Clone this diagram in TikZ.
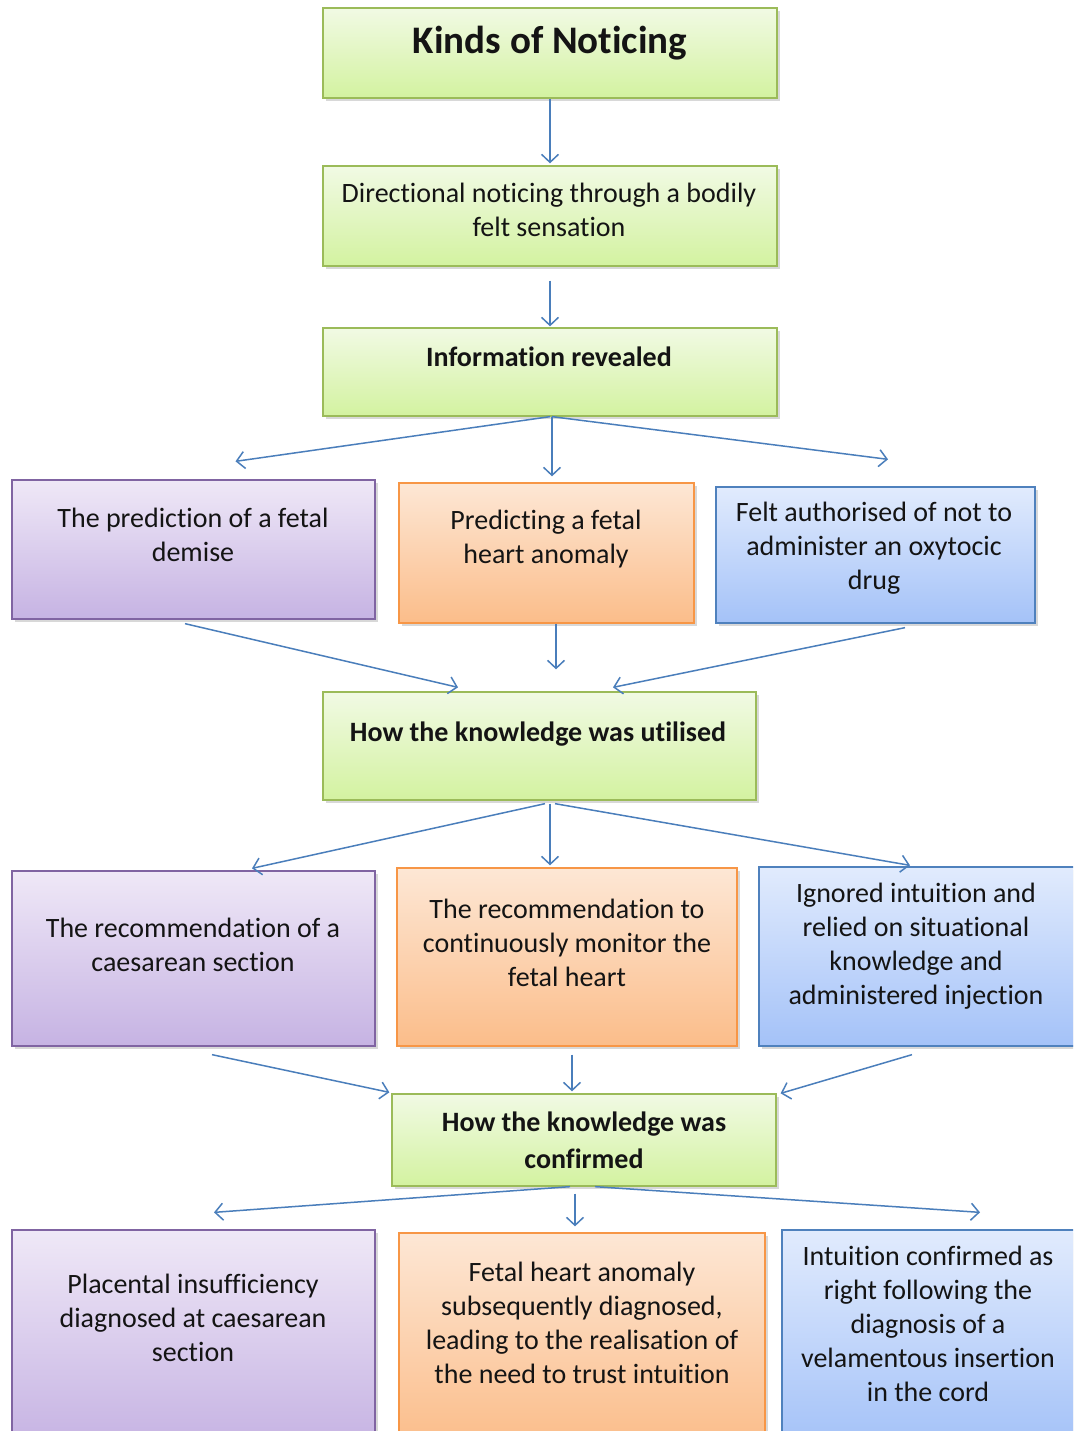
\documentclass[tikz,border=0pt]{standalone}
\usepackage{fontspec}
\setmainfont{Carlito}[RawFeature=-liga]
\usetikzlibrary{arrows.meta,shadows,calc}
\definecolor{grnB}{HTML}{9BBB59}\definecolor{grnT}{HTML}{F1FAE4}\definecolor{grnD}{HTML}{D3F2A0}
\definecolor{purB}{HTML}{8064A2}\definecolor{purT}{HTML}{EFE8F7}\definecolor{purD}{HTML}{C6B3E3}
\definecolor{orgB}{HTML}{F79646}\definecolor{orgT}{HTML}{FDE7D5}\definecolor{orgD}{HTML}{FBBD8A}
\definecolor{bluB}{HTML}{4F81BD}\definecolor{bluT}{HTML}{E1EBFD}\definecolor{bluD}{HTML}{A4C2F8}
\definecolor{arrC}{HTML}{4A7EBB}
\definecolor{ink}{HTML}{141414}
\tikzset{
  box/.style={draw, line width=1.3pt, inner sep=0pt, rectangle,
    drop shadow={opacity=0.3, shadow xshift=3pt, shadow yshift=-3pt}},
  gbox/.style={box, draw=grnB, top color=grnT, bottom color=grnD},
  pbox/.style={box, draw=purB, top color=purT, bottom color=purD},
  obox/.style={box, draw=orgB, top color=orgT, bottom color=orgD},
  bbox/.style={box, draw=bluB, top color=bluT, bottom color=bluD},
  txt/.style={align=center, inner sep=0pt, text=ink, font=\fontsize{28}{34}\selectfont},
  btxt/.style={txt, font=\fontsize{28}{37}\selectfont\bfseries},
  arr/.style={draw=arrC, line width=1.5pt, -{Straight Barb[length=8pt,width=17pt]}}
}
\begin{document}
\begin{tikzpicture}[x=1pt,y=-1pt]
\clip (0,0) rectangle (1073,1431);
\fill[white] (0,0) rectangle (1073,1431);
% boxes
\node[gbox, minimum width=454pt, minimum height=90pt] (t) at (550,53) {};
\node[gbox, minimum width=454pt, minimum height=100pt] (d) at (550,216) {};
\node[gbox, minimum width=454pt, minimum height=88pt] (i) at (550,372) {};
\node[pbox, minimum width=363pt, minimum height=139pt] (p1) at (193.5,549.5) {};
\node[obox, minimum width=295pt, minimum height=140pt] (o1) at (546.5,553) {};
\node[bbox, minimum width=319pt, minimum height=136pt] (b1) at (875.5,555) {};
\node[gbox, minimum width=433pt, minimum height=108pt] (u) at (539.5,746) {};
\node[pbox, minimum width=363pt, minimum height=175pt] (p2) at (193.5,958.5) {};
\node[obox, minimum width=340pt, minimum height=178pt] (o2) at (567,957) {};
\node[bbox, minimum width=321pt, minimum height=179pt] (b2) at (919.5,956.5) {};
\node[gbox, minimum width=384pt, minimum height=92pt] (c) at (584,1140) {};
\node[pbox, minimum width=363pt, minimum height=215pt] (p3) at (193.5,1337.5) {};
\node[obox, minimum width=366pt, minimum height=212pt] (o3) at (582,1339) {};
\node[bbox, minimum width=303pt, minimum height=215pt] (b3) at (933.5,1337.5) {};
% labels
\node[txt, font=\fontsize{39}{46}\selectfont\bfseries] (tt) at (550,43) {Kinds of Noticing};
\node[txt] (dt) at (549,210) {Directional noticing through a bodily\\felt sensation};
\node[btxt] (it) at (549,357) {Information revealed};
\node[txt] (p1t) at (193,535) {The prediction of a fetal\\demise};
\node[txt] (o1t) at (546,539) {Predicting a fetal\\heart anomaly};
\node[txt] (b1t) at (874,548) {Felt authorised of not to\\administer an oxytocic\\drug};
\node[btxt] (ut) at (538,734) {How the knowledge was utilised};
\node[txt] (p2t) at (193,945) {The recommendation of a\\caesarean section};
\node[txt] (o2t) at (567,943) {The recommendation to\\continuously monitor the\\fetal heart};
\node[txt] (b2t) at (916,946) {Ignored intuition and\\relied on situational\\knowledge and\\administered injection};
\node[btxt] (ct) at (584,1140) {How the knowledge was\\confirmed};
\node[txt] (p3t) at (193,1318) {Placental insufficiency\\diagnosed at caesarean\\section};
\node[txt] (o3t) at (582,1323) {Fetal heart anomaly\\subsequently diagnosed,\\leading to the realisation of\\the need to trust intuition};
\node[txt] (b3t) at (928,1324) {Intuition confirmed as\\right following the\\diagnosis of a\\velamentous insertion\\in the cord};
% connectors
\draw[arr] (t.south) -- ($(d.north)+(0,-2)$);
\draw[arr] ($(d.south)+(0,14)$) -- ($(i.north)+(0,-1)$);
\draw[arr] (i.south) -- ($(p1.north)+(42,-18)$);
\draw[arr] ($(i.south)+(2,0)$) -- ($(o1.north)+(5.5,-6)$);
\draw[arr] ($(i.south)+(2,0)$) -- ($(b1.north)+(12.5,-27)$);
\draw[arr] ($(p1.south)+(-8.5,4)$) -- ($(u.north)+(-81.5,-4)$);
\draw[arr] ($(o1.south)+(9.5,0)$) -- ($(u.north)+(16.5,-22)$);
\draw[arr] ($(b1.south)+(29.5,4)$) -- ($(u.north)+(73.5,-4)$);
\draw[arr] ($(u.south)+(5.5,3)$) -- ($(p2.north)+(58.5,-2)$);
\draw[arr] ($(u.south)+(10.5,3)$) -- ($(o2.north)+(-17,-2)$);
\draw[arr] ($(u.south)+(15.5,3)$) -- ($(b2.north)+(-9.5,-1)$);
\draw[arr] ($(p2.south)+(18.5,8)$) -- ($(c.north west)+(-2,-1)$);
\draw[arr] ($(o2.south)+(5,8)$) -- ($(c.north)+(-12,-2)$);
\draw[arr] ($(b2.south)+(-7.5,8)$) -- ($(c.north east)+(4,0)$);
\draw[arr] ($(c.south)+(-14,0)$) -- ($(p3.north)+(20.5,-17)$);
\draw[arr] ($(c.south)+(-9,7)$) -- ($(o3.north)+(-7,-6)$);
\draw[arr] ($(c.south)+(11,0)$) -- ($(b3.north)+(46.5,-17)$);
\end{tikzpicture}
\end{document}
